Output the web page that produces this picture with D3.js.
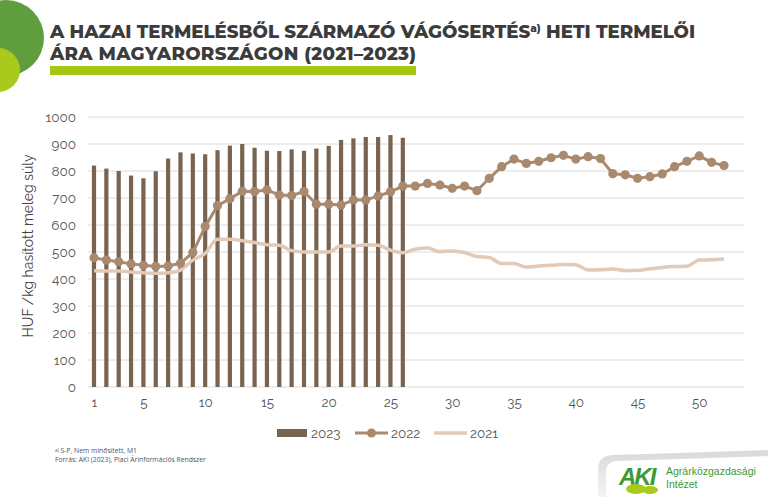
<!DOCTYPE html>
<html><head><meta charset="utf-8">
<script src="https://cdn.jsdelivr.net/npm/d3@7"></script>
<style>body{margin:0;background:#fff;}svg{display:block;}</style>
</head><body>
<script>
const weeks = d3.range(1, 53);
const v2023 = [820,809,800,783,773,799,846,869,865,862,877,894,900,886,875,874,880,875,883,893,915,921,926,926,933,923];
const v2022 = [479,470,464,456,451,446,448,458,498,594,672,697,725,724,730,711,709,724,677,677,674,693,693,707,723,744,
               744,754,748,736,744,727,773,816,844,828,836,849,858,844,853,846,790,786,773,779,789,816,836,856,832,820];
const v2021 = [431,430,430,426,423,421,423,433,470,495,547,547,542,535,527,525,505,500,500,500,522,522,527,525,507,497,
               510,515,501,504,498,483,480,457,457,444,448,451,454,453,433,434,437,431,432,438,443,446,447,470,471,474];
const yTicks = [0,100,200,300,400,500,600,700,800,900,1000];
const xTickLabels = [1,5,10,15,20,25,30,35,40,45,50];
const seriesNames = ["2023","2022","2021"];

const W = 768, H = 497;
const svg = d3.select("body").append("svg").attr("width", W).attr("height", H);
const col23 = "#786450", col22 = "#a98a6f", col21 = "#e2cab8";

// decorative circles
svg.append("circle").attr("cx", 6).attr("cy", 38).attr("r", 38).attr("fill", "#5f9d3f");
svg.append("circle").attr("cx", -2).attr("cy", 70).attr("r", 22).attr("fill", "#a9c91c");

// title
const tFont = "Montserrat, 'Open Sans', sans-serif";
const title = svg.append("text").attr("x", 50).attr("y", 38)
  .attr("font-family", tFont).attr("font-weight", 800)
  .attr("font-size", 18.2).attr("fill", "#3b3b3b");
title.append("tspan").text("A HAZAI TERMELÉSBŐL SZÁRMAZÓ VÁGÓSERTÉS");
title.append("tspan").attr("font-size", 10.5).attr("dy", -6).text("a)");
title.append("tspan").attr("dy", 6).text(" HETI TERMELŐI");
svg.append("text").attr("x", 50).attr("y", 60)
  .attr("font-family", tFont).attr("font-weight", 800)
  .attr("font-size", 18.2).attr("letter-spacing", 0.3).attr("fill", "#3b3b3b").text("ÁRA MAGYARORSZÁGON (2021–2023)");
svg.append("rect").attr("x", 50).attr("y", 66).attr("width", 366).attr("height", 9).attr("fill", "#a6c614");

// scales
const x = d3.scalePoint().domain(weeks).range([94, 724]);
const y = d3.scaleLinear().domain([0, 1000]).range([387, 117]);
const gx0 = 88, gx1 = 744;

// gridlines
svg.append("g").selectAll("line").data(yTicks).join("line")
  .attr("x1", gx0).attr("x2", gx1).attr("y1", d => y(d)).attr("y2", d => y(d))
  .attr("stroke", "#dcdcdc").attr("stroke-width", 1);

// y axis
const yAxis = svg.append("g").attr("transform", `translate(${gx0},0)`)
  .call(d3.axisLeft(y).tickValues(yTicks).tickFormat(d3.format("d")).tickSize(0).tickPadding(12));
yAxis.select(".domain").remove();
yAxis.selectAll("text").attr("font-family", "Raleway, Lato, sans-serif").attr("font-size", 13.5).attr("fill", "#555");

// x axis
const xAxis = svg.append("g").attr("transform", `translate(0,${y(0)})`)
  .call(d3.axisBottom(x).tickValues(xTickLabels).tickSize(0).tickPadding(10));
xAxis.select(".domain").remove();
xAxis.selectAll("text").attr("font-family", "Raleway, Lato, sans-serif").attr("font-size", 13.5).attr("fill", "#555");

// y label
svg.append("text").attr("transform", `translate(33,246) rotate(-90)`).attr("text-anchor", "middle")
  .attr("font-family", "Raleway, Lato, sans-serif").attr("font-size", 14).attr("fill", "#444")
  .text("HUF /kg hasított meleg súly");

// bars 2023
const bw = 4.2;
svg.append("g").selectAll("rect").data(v2023).join("rect")
  .attr("x", (d, i) => x(weeks[i]) - bw / 2).attr("width", bw)
  .attr("y", d => y(d)).attr("height", d => y(0) - y(d)).attr("fill", col23);

// 2021 line
const line = d3.line().x((d, i) => x(weeks[i])).y(d => y(d)).curve(d3.curveMonotoneX);
svg.append("path").datum(v2021).attr("d", line).attr("fill", "none")
  .attr("stroke", col21).attr("stroke-width", 3.5).attr("stroke-linejoin", "round");

// 2022 line
const line2 = d3.line().x((d, i) => x(weeks[i])).y(d => y(d));
svg.append("path").datum(v2022).attr("d", line2).attr("fill", "none")
  .attr("stroke", col22).attr("stroke-width", 3).attr("stroke-linejoin", "round");
svg.append("g").selectAll("circle").data(v2022).join("circle")
  .attr("cx", (d, i) => x(weeks[i])).attr("cy", d => y(d)).attr("r", 4.6).attr("fill", col22);

// legend
const lg = svg.append("g").attr("font-family", "Raleway, Lato, sans-serif").attr("font-size", 13.5).attr("fill", "#555");
lg.append("rect").attr("x", 277).attr("y", 429).attr("width", 30).attr("height", 8).attr("fill", col23);
lg.append("text").attr("x", 311).attr("y", 438).text(seriesNames[0]);
lg.append("line").attr("x1", 355).attr("x2", 388).attr("y1", 433).attr("y2", 433).attr("stroke", col22).attr("stroke-width", 3);
lg.append("circle").attr("cx", 371.5).attr("cy", 433).attr("r", 4.6).attr("fill", col22);
lg.append("text").attr("x", 391).attr("y", 438).text(seriesNames[1]);
lg.append("line").attr("x1", 434).attr("x2", 467).attr("y1", 433).attr("y2", 433).attr("stroke", col21).attr("stroke-width", 3.5);
lg.append("text").attr("x", 470).attr("y", 438).text(seriesNames[2]);

// footnotes
const fn = svg.append("g").attr("font-family", "'Open Sans', sans-serif").attr("font-size", 6.8).attr("fill", "#555");
const f1 = fn.append("text").attr("x", 55).attr("y", 453);
f1.append("tspan").attr("font-size", 4.5).attr("dy", -1.5).text("a)");
f1.append("tspan").attr("dy", 1.5).text(" S-P, Nem minősített, M1");
fn.append("text").attr("x", 55).attr("y", 461.5).text("Forrás: AKI (2023), Piaci Árinformációs Rendszer");

// logo area
const defs = svg.append("defs");
const grad = defs.append("linearGradient").attr("id", "lgGrad").attr("x1", 0).attr("y1", 0).attr("x2", 0).attr("y2", 1);
grad.append("stop").attr("offset", 0).attr("stop-color", "#d9d9d9");
grad.append("stop").attr("offset", 1).attr("stop-color", "#f4f4f4");
svg.append("path").attr("d", "M598,497 L598,470 Q598,455 614,455 L768,450 L768,456 L618,461 Q606,461 606,472 L606,497 Z")
  .attr("fill", "url(#lgGrad)");
svg.append("text").attr("x", 619).attr("y", 485).attr("font-family", "'Liberation Sans', Arial, sans-serif")
  .attr("font-weight", 900).attr("font-size", 24).attr("font-style", "italic").attr("fill", "#3b9a35").attr("letter-spacing", -2).text("AKI");
svg.append("ellipse").attr("cx", 636).attr("cy", 489).attr("rx", 10).attr("ry", 5).attr("fill", "#a9c91c");
svg.append("ellipse").attr("cx", 650).attr("cy", 490).attr("rx", 8).attr("ry", 4).attr("fill", "#a9c91c");
const lt = svg.append("g").attr("font-family", "'Liberation Sans', Arial, sans-serif").attr("font-size", 10.5).attr("fill", "#3b9a35");
lt.append("text").attr("x", 666).attr("y", 475).text("Agrárközgazdasági");
lt.append("text").attr("x", 666).attr("y", 488).text("Intézet");
</script>
</body></html>
